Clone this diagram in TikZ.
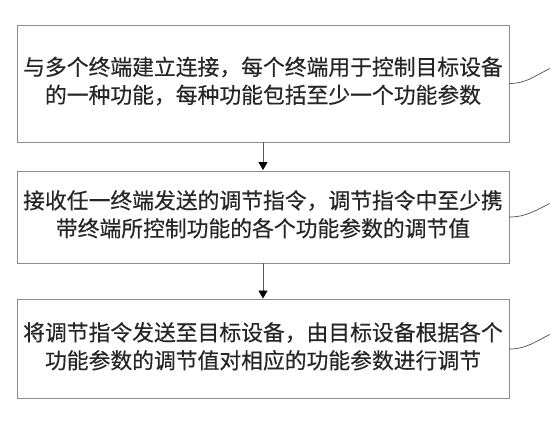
\documentclass[tikz,border=0pt]{standalone}
\usepackage{fontspec}
\newfontfamily\cjk[FakeBold=0.4]{Noto Sans CJK SC}
\usetikzlibrary{arrows.meta}
\begin{document}
\begin{tikzpicture}[x=1pt,y=-1pt,
  stepbox/.style={draw=black!45, line width=0.9pt, minimum width=492pt, inner sep=0pt,
    align=center, font=\cjk\fontsize{21.8}{28}\selectfont, text=black!85},
  flow/.style={draw=black!65, line width=0.8pt, -{Triangle[length=8pt,width=9pt,color=black]}, shorten >=0.5pt},
  lead/.style={draw=black!70, line width=0.7pt}]
\useasboundingbox (0,0) rectangle (550,426);
\node[stepbox, minimum height=117pt] (b1) at (263,83.5)
  {\begin{tabular}{@{}c@{}}与多个终端建立连接，每个终端用于控制目标设备\\的一种功能，每种功能包括至少一个功能参数\end{tabular}};
\node[stepbox, minimum height=92pt] (b2) at (263,217)
  {\raisebox{-1pt}{\begin{tabular}{@{}c@{}}接收任一终端发送的调节指令，调节指令中至少携\\带终端所控制功能的各个功能参数的调节值\end{tabular}}};
\node[stepbox, minimum height=99pt] (b3) at (263,349)
  {\raisebox{2pt}{\begin{tabular}{@{}c@{}}将调节指令发送至目标设备，由目标设备根据各个\\功能参数的调节值对相应的功能参数进行调节\end{tabular}}};
\draw[flow] (b1.south) -- (b2.north);
\draw[flow] (b2.south) -- (b3.north);
\coordinate (e1) at (551,68);
\coordinate (e2) at (551,203);
\coordinate (e3) at (551,334);
\draw[lead] (b1.east) to[out=0,in=205] (e1);
\draw[lead] (b2.east) to[out=0,in=205] (e2);
\draw[lead] (b3.east) to[out=0,in=205] (e3);
\end{tikzpicture}
\end{document}
